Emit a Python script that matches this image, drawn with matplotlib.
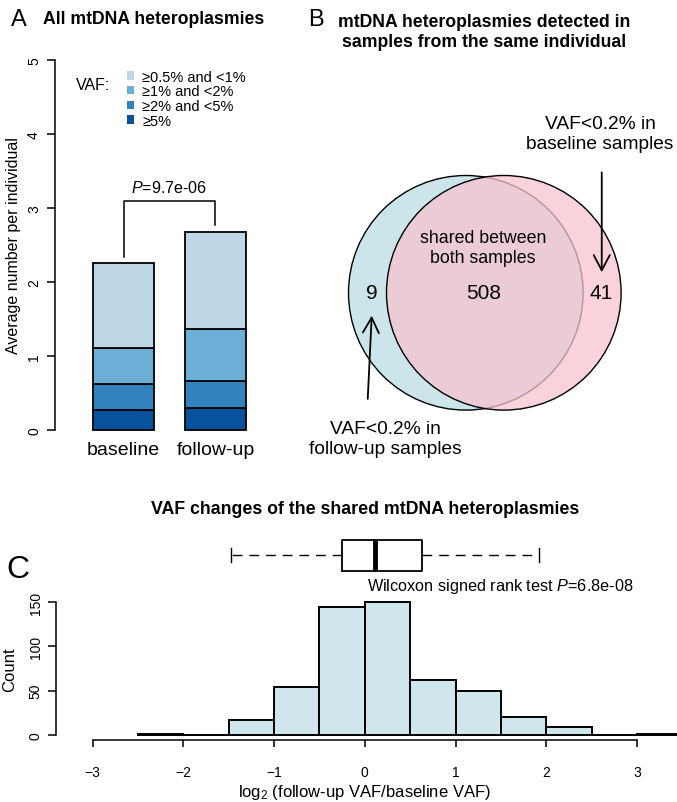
import matplotlib.pyplot as plt
import numpy as np
from matplotlib.patches import Circle, Patch

plt.rcParams['font.family'] = ['Liberation Sans', 'DejaVu Sans']
plt.rcParams['mathtext.fontset'] = 'custom'
plt.rcParams['mathtext.rm'] = 'Liberation Sans'
plt.rcParams['mathtext.it'] = 'Liberation Sans:italic'
plt.rcParams['mathtext.bf'] = 'Liberation Sans:bold'

# --- panel A data (stacked from bottom: >=5% first)
groups = ['baseline', 'follow-up']
vaf_labels = ['≥5%', '≥2% and <5%', '≥1% and <2%', '≥0.5% and <1%']
vaf_colors = ['#08519C', '#3182BD', '#6BAED6', '#BDD7E7']
baseline_avg = [0.26, 0.36, 0.48, 1.15]
followup_avg = [0.30, 0.36, 0.70, 1.32]
p_bar = '9.7e-06'

# --- panel B data
only_left = 9
shared = 508
only_right = 41

# --- panel C data
bin_edges = [-2.5, -2.0, -1.5, -1.0, -0.5, 0.0, 0.5, 1.0, 1.5, 2.0, 2.5, 3.0, 3.5]
hist_counts = [1, 0, 17, 54, 145, 150, 62, 49, 20, 9, 0, 1]
box_q1, box_med, box_q3 = -0.25, 0.11, 0.625
whisk_lo, whisk_hi = -1.47, 1.915
p_wilcox = '6.8e-08'

W, H = 677, 803
fig = plt.figure(figsize=(W/100, H/100), dpi=100)

def px_rect(x0, y0, x1, y1):
    return [x0/W, 1-y1/H, (x1-x0)/W, (y1-y0)/H]

def fx(x):
    return x/W

def fy(y):
    return 1-y/H

#Panel A: stacked bars
axA = fig.add_axes(px_rect(55, 61.2, 290, 430.7))
xpos = np.arange(len(groups))
stacks = np.array([baseline_avg, followup_avg])
bottom = np.zeros(len(groups))
for i in range(len(vaf_labels)):
    axA.bar(xpos, stacks[:, i], bottom=bottom, width=0.663, color=vaf_colors[i],
            edgecolor='black', linewidth=1.3, clip_on=False)
    bottom = bottom + stacks[:, i]
axA.set_ylim(0, 5)
axA.set_xlim(-0.745, 1.81)
for s in ['top', 'right', 'bottom']:
    axA.spines[s].set_visible(False)
axA.spines['left'].set_linewidth(1.1)
axA.spines['left'].set_bounds(0, 5)
axA.set_yticks([0, 1, 2, 3, 4, 5])
axA.tick_params(axis='y', labelrotation=90, length=6, width=1.1, labelsize=10, pad=4)
for lbl in axA.get_yticklabels():
    lbl.set_va('center')
axA.set_xticks(xpos)
axA.set_xticklabels(groups, fontsize=14)
axA.tick_params(axis='x', length=0, pad=8)
axA.set_ylabel('Average number per individual', fontsize=11.5)
axA.yaxis.set_label_coords(-0.1766, 0.5)
axA.yaxis.label.set_va('center')

#significance bracket
totals = stacks.sum(axis=1)
top_y = 3.10
axA.plot([0, 0, 1, 1], [totals[0]+0.09, top_y, top_y, totals[1]+0.09], color='black', lw=1.1, clip_on=False)
axA.text(0.5, 3.28, '$P$=' + p_bar, ha='center', va='center', fontsize=11.6)

#legend
handles = [Patch(facecolor=c, edgecolor='none') for c in vaf_colors[::-1]]
fig.legend(handles, vaf_labels[::-1], loc='upper left', bbox_to_anchor=(fx(127), fy(70.6)),
           bbox_transform=fig.transFigure, frameon=False, fontsize=10.5, borderpad=0,
           borderaxespad=0, handlelength=0.5, handleheight=0.5, handletextpad=0.55,
           labelspacing=0.05)
fig.text(fx(76), fy(86), 'VAF:', ha='left', va='center', fontsize=11.5)

fig.text(fx(18.7), fy(20), 'A', ha='center', va='center', fontsize=17)
fig.text(fx(43), fy(20), 'All mtDNA heteroplasmies', ha='left', va='center', fontsize=12.7, fontweight='bold')

#Panel B: venn
fig.text(fx(316), fy(20), 'B', ha='center', va='center', fontsize=17)
fig.text(fx(484), fy(32.5), 'mtDNA heteroplasmies detected in\nsamples from the same individual',
         ha='center', va='center', fontsize=12.7, fontweight='bold', linespacing=1.25)

axB = fig.add_axes(px_rect(330, 150, 677, 470))
axB.set_xlim(-1.3197, 1.6385)
axB.set_ylim(-1.5021, 1.2259)
axB.axis('off')
dx = 0.162
axB.add_patch(Circle((-dx, 0), 1.0, facecolor='#CBE5EB', edgecolor='black', lw=1.0))
axB.add_patch(Circle((dx, 0), 1.0, facecolor=(0.969, 0.769, 0.816, 0.75), edgecolor='black', lw=1.0))
axB.text(-0.015, 0.384, 'shared between\nboth samples', ha='center', va='center', fontsize=12.8, linespacing=1.2)
axB.text(-0.006, 0, str(shared), ha='center', va='center', fontsize=15)
axB.text(-0.964, 0, str(only_left), ha='center', va='center', fontsize=15)
axB.text(0.988, 0, str(only_right), ha='center', va='center', fontsize=15)
arrow_style = '->,head_length=0.55,head_width=0.29'
axB.annotate('', xy=(0.997, 0.175), xytext=(0.997, 1.027),
             arrowprops=dict(arrowstyle=arrow_style, lw=1.3, mutation_scale=20, shrinkA=0, shrinkB=0))
axB.annotate('', xy=(-0.964, -0.195), xytext=(-0.998, -0.905),
             arrowprops=dict(arrowstyle=arrow_style, lw=1.3, mutation_scale=20, shrinkA=0, shrinkB=0))
axB.text(0.982, 1.361, 'VAF<0.2% in\nbaseline samples', ha='center', va='center', fontsize=13.8, linespacing=1.25)
axB.text(-0.851, -1.244, 'VAF<0.2% in\nfollow-up samples', ha='center', va='center', fontsize=13.8, linespacing=1.25)

#Panel C: histogram + boxplot
fig.text(fx(18), fy(570), 'C', ha='center', va='center', fontsize=23)
fig.text(fx(365.5), fy(510), 'VAF changes of the shared mtDNA heteroplasmies', ha='center', va='center',
         fontsize=12.8, fontweight='bold')

xl = (-3.404, 3.440)
axC = fig.add_axes(px_rect(56, 603.3, 677, 735.7))
edges = np.array(bin_edges)
axC.bar(edges[:-1], hist_counts, width=np.diff(edges), align='edge', color='#CFE6EC',
        edgecolor='black', linewidth=1.4, clip_on=False)
axC.set_xlim(*xl)
axC.set_ylim(0, 150)
for s in ['top', 'right']:
    axC.spines[s].set_visible(False)
axC.spines['left'].set_bounds(0, 150)
axC.spines['bottom'].set_bounds(-3, 3)
axC.spines['bottom'].set_position(('outward', 3.8))
axC.spines['left'].set_linewidth(1.1)
axC.spines['bottom'].set_linewidth(1.1)
axC.set_yticks([0, 50, 100, 150])
axC.set_xticks([-3, -2, -1, 0, 1, 2, 3])
axC.tick_params(axis='y', labelrotation=90, length=5.5, width=1.1, labelsize=10, pad=4)
for lbl in axC.get_yticklabels():
    lbl.set_va('center')
axC.tick_params(axis='x', length=5.3, width=1.1, labelsize=10, pad=13)
axC.set_ylabel('Count', fontsize=12)
axC.yaxis.set_label_coords((9.5-56)/621, 0.5)
axC.yaxis.label.set_va('center')
axC.set_xlabel('log$_2$ (follow-up VAF/baseline VAF)', fontsize=12)
axC.xaxis.set_label_coords(0.4974, (735.7-792)/132.4)
axC.xaxis.label.set_va('center')
axC.text(2.963, 169, 'Wilcoxon signed rank test $P$=' + p_wilcox, ha='right', va='center',
         fontsize=11.7, clip_on=False)

axBox = fig.add_axes(px_rect(56, 541, 677, 571.7))
axBox.set_xlim(*xl)
axBox.set_ylim(0, 1)
axBox.axis('off')
stats = [dict(med=box_med, q1=box_q1, q3=box_q3, whislo=whisk_lo, whishi=whisk_hi, fliers=[])]
bp = axBox.bxp(stats, positions=[0.5], widths=1.0, orientation='horizontal', showfliers=False,
               capwidths=0.46,
               boxprops=dict(color='black', lw=1.3),
               whiskerprops=dict(color='black', lw=1.0, linestyle=(0, (7, 5))),
               capprops=dict(color='black', lw=1.0),
               medianprops=dict(color='black', lw=3.5))
for k in bp:
    for art in bp[k]:
        art.set_clip_on(False)

fig.savefig('out.png', dpi=100)
